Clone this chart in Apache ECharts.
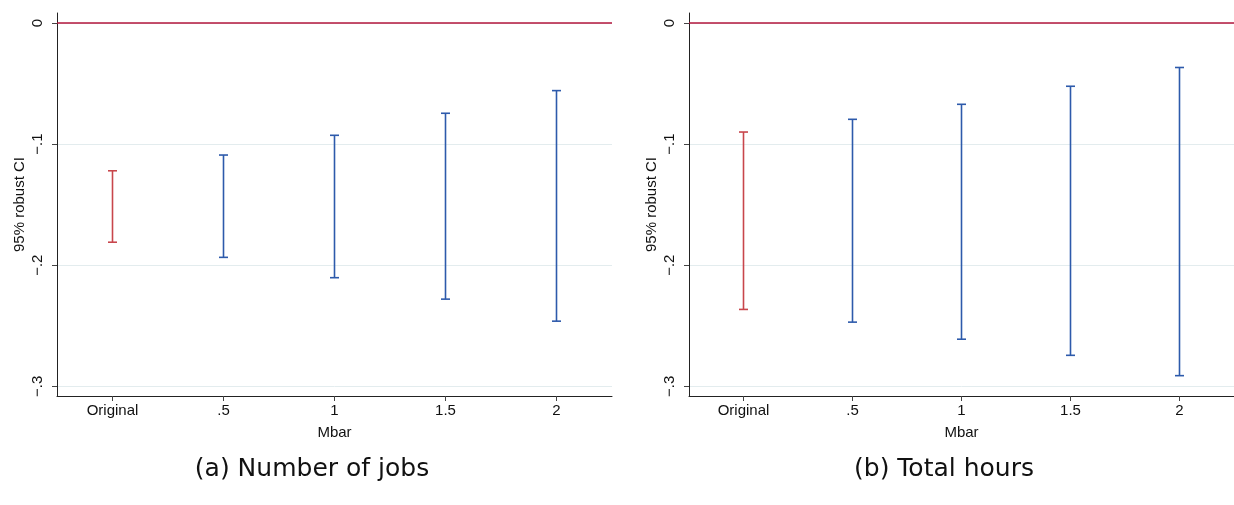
<!DOCTYPE html>
<html>
<head>
<meta charset="utf-8">
<script src="https://cdn.jsdelivr.net/npm/echarts@6/dist/echarts.min.js"></script>
<style>
html,body{margin:0;padding:0;background:#fff;}
#chart{width:1234px;height:505px;}
</style>
</head>
<body>
<div id="chart"></div>
<script>
// ---- data ----
const categories = ['Original', '.5', '1', '1.5', '2'];
const jobsLower  = [-0.181, -0.1935, -0.2103, -0.228, -0.2462];
const jobsUpper  = [-0.122, -0.109, -0.0927, -0.0745, -0.0558];
const hoursLower = [-0.2365, -0.247, -0.2611, -0.2744, -0.2912];
const hoursUpper = [-0.090, -0.0795, -0.0671, -0.0522, -0.0367];
const yTickValues = [0, -0.1, -0.2, -0.3];
const captions = ['(a) Number of jobs', '(b) Total hours'];
const xAxisTitle = 'Mbar';
const yAxisTitle = '95% robust CI';

// ---- styles ----
const RED = '#c8464c';
const BLUE = '#2d5aab';
const ZERO = '#b3163c';
const FONT = '"Liberation Sans", Arial, sans-serif';

function fmtY(v) {
  if (v === 0) return '0';
  return (v < 0 ? '\u2212' : '') + String(Math.abs(v)).replace(/^0/, '');
}

function renderErrorBar(params, api) {
  const x = api.value(0);
  const lo = api.coord([x, api.value(1)]);
  const hi = api.coord([x, api.value(2)]);
  const color = params.dataIndex === 0 ? RED : BLUE;
  const cap = 4.5;
  const style = { stroke: color, lineWidth: 1.6 };
  return {
    type: 'group',
    children: [
      { type: 'line', shape: { x1: lo[0], y1: lo[1], x2: hi[0], y2: hi[1] }, style },
      { type: 'line', shape: { x1: lo[0] - cap, y1: lo[1], x2: lo[0] + cap, y2: lo[1] }, style },
      { type: 'line', shape: { x1: hi[0] - cap, y1: hi[1], x2: hi[0] + cap, y2: hi[1] }, style }
    ]
  };
}

function makeX(gi) {
  return {
    type: 'category', gridIndex: gi, data: categories, boundaryGap: true,
    name: xAxisTitle, nameLocation: 'middle', nameGap: 29,
    nameTextStyle: { fontFamily: FONT, fontSize: 15, color: '#111' },
    axisLine: { show: true, onZero: false, lineStyle: { color: '#222', width: 1 } },
    axisTick: { show: true, alignWithLabel: true, length: 5, lineStyle: { color: '#444' } },
    axisLabel: { fontFamily: FONT, fontSize: 15, color: '#111', margin: 7, interval: 0 },
    splitLine: { show: false }
  };
}
function makeY(gi) {
  return {
    type: 'value', gridIndex: gi, min: -0.308, max: 0.0083,
    name: yAxisTitle, nameLocation: 'middle', nameGap: 30, nameRotate: 90,
    nameTextStyle: { fontFamily: FONT, fontSize: 15, color: '#111' },
    axisLine: { show: true, onZero: false, lineStyle: { color: '#222', width: 1 } },
    axisTick: { show: true, length: 5, customValues: yTickValues, lineStyle: { color: '#444' } },
    axisLabel: { fontFamily: FONT, fontSize: 15, color: '#111', rotate: 90, margin: 12,
                 customValues: yTickValues, formatter: fmtY },
    splitLine: { show: true, lineStyle: { color: '#e3ecee', width: 1 } }
  };
}
function makeSeries(gi, lower, upper) {
  return {
    type: 'custom', xAxisIndex: gi, yAxisIndex: gi,
    renderItem: renderErrorBar,
    encode: { x: 0, y: [1, 2] },
    data: categories.map((c, i) => [i, lower[i], upper[i]]),
    z: 3,
    markLine: {
      silent: true, symbol: 'none', label: { show: false },
      lineStyle: { color: ZERO, width: 1.5, type: 'solid' },
      data: [{ yAxis: 0 }], z: 4
    }
  };
}

const CAPTION_STYLE = { fontFamily: '"DejaVu Sans", sans-serif', fontWeight: 'normal', fontSize: 25, color: '#111' };

const chart = echarts.init(document.getElementById('chart'), null, { renderer: 'canvas' });
chart.setOption({
  backgroundColor: '#fff',
  animation: false,
  title: [
    { text: captions[0], left: 307, top: 452, textAlign: 'center', textStyle: CAPTION_STYLE },
    { text: captions[1], left: 939, top: 452, textAlign: 'center', textStyle: CAPTION_STYLE }
  ],
  grid: [
    { left: 57, top: 13, width: 555, height: 383, containLabel: false },
    { left: 689, top: 13, width: 557, height: 383, containLabel: false }
  ],
  xAxis: [makeX(0), makeX(1)],
  yAxis: [makeY(0), makeY(1)],
  series: [makeSeries(0, jobsLower, jobsUpper), makeSeries(1, hoursLower, hoursUpper)]
});
</script>
</body>
</html>
